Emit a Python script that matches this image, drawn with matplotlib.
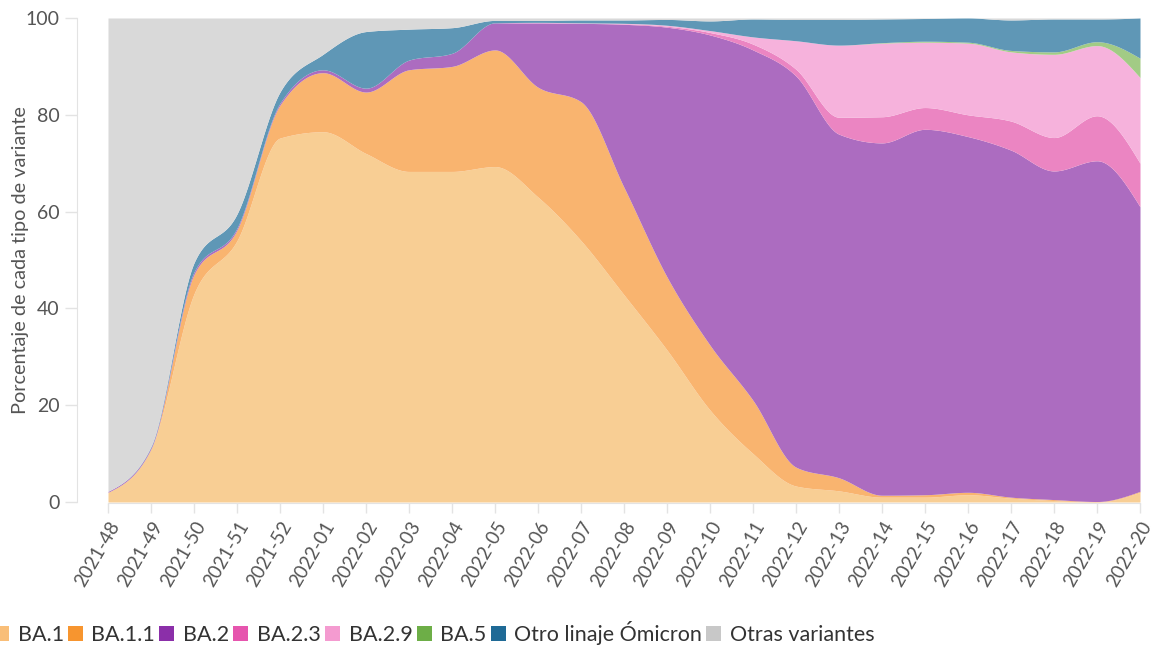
import numpy as np
import matplotlib
matplotlib.use("Agg")
import matplotlib.pyplot as plt
from matplotlib.patches import Patch

plt.rcParams['font.family'] = ['Lato', 'DejaVu Sans']

weeks = ["2021-48", "2021-49", "2021-50", "2021-51", "2021-52",
         "2022-01", "2022-02", "2022-03", "2022-04", "2022-05", "2022-06",
         "2022-07", "2022-08", "2022-09", "2022-10", "2022-11", "2022-12",
         "2022-13", "2022-14", "2022-15", "2022-16", "2022-17", "2022-18",
         "2022-19", "2022-20"]

ba1 = [2, 11, 43, 54, 75.2, 76.5, 72, 68.3, 68.3, 69.3, 63, 54, 42.8, 31.4,
       19, 10, 3.3, 2.3, 1, 1, 1.5, 0.8, 0.3, 0, 2]
ba11 = [0, 0, 4, 2.2, 6.8, 12.2, 12.7, 21, 21.7, 24.1, 22.7, 28.7, 22.2, 15.1,
        13.4, 11, 3.9, 2.7, 0.4, 0.5, 0.5, 0.2, 0.2, 0.1, 0.2]
ba2 = [0.2, 0.3, 0.5, 0.4, 0.4, 0.6, 0.8, 2, 2.7, 5.6, 13.3, 16.2, 33.7, 51.6,
       64.1, 72.4, 80.8, 71, 72.8, 75.5, 73.5, 71.7, 67.9, 70.4, 58.8]
ba23 = [0, 0, 0, 0, 0, 0, 0, 0, 0, 0, 0, 0, 0.1, 0.2, 0.5, 1.2, 1.4, 3.5, 5.4,
        4.5, 4.5, 6, 6.9, 9.3, 9]
ba29 = [0, 0, 0, 0, 0, 0, 0, 0, 0, 0, 0.1, 0.1, 0.1, 0.2, 0.4, 1.5, 5.9, 14.9,
        15.2, 13.5, 14.8, 14.3, 17.2, 14.5, 17.7]
ba5 = [0, 0, 0, 0, 0, 0, 0, 0, 0, 0, 0, 0, 0, 0, 0, 0, 0, 0, 0.1, 0.2, 0.2,
       0.3, 0.5, 0.8, 4]
otro = [0, 0.2, 1.9, 2.9, 2.3, 3.2, 11.7, 6.4, 5.3, 0.5, 0.4, 0.6, 0.7, 1.2,
        2, 3.7, 4.4, 5.3, 4.9, 4.7, 5, 6.3, 6.8, 4.7, 8.3]

names = ["BA.1", "BA.1.1", "BA.2", "BA.2.3", "BA.2.9", "BA.5",
         "Otro linaje Ómicron", "Otras variantes"]
fill_colors = ["#F8CE94", "#F9B46F", "#AC6CC0", "#EB85C2", "#F6B2DC",
               "#A2CB85", "#5F97B6", "#D9D9D9"]
legend_colors = ["#F9BE78", "#F7952F", "#8B2FA9", "#E655AE", "#F49BD0",
                 "#6DAE47", "#1F6A96", "#C8C8C8"]

series = [ba1, ba11, ba2, ba23, ba29, ba5, otro]
arr = np.array(series, dtype=float)
otras = 100 - arr.sum(axis=0)
arr = np.vstack([arr, otras])
cum = np.cumsum(arr, axis=0)


def monotone(x, y, xn):
    x = np.asarray(x, float)
    y = np.asarray(y, float)
    n = len(x)
    h = np.diff(x)
    s = np.diff(y) / h
    t = np.zeros(n)
    for i in range(1, n - 1):
        h0, h1 = h[i - 1], h[i]
        s0, s1 = s[i - 1], s[i]
        p = (s0 * h1 + s1 * h0) / (h0 + h1)
        t[i] = (np.sign(s0) + np.sign(s1)) * min(abs(s0), abs(s1), 0.5 * abs(p))
    t[0] = (3 * s[0] - t[1]) / 2
    t[-1] = (3 * s[-1] - t[-2]) / 2
    idx = np.clip(np.searchsorted(x, xn, side='right') - 1, 0, n - 2)
    hh = h[idx]
    u = (xn - x[idx]) / hh
    h00 = 2 * u**3 - 3 * u**2 + 1
    h10 = u**3 - 2 * u**2 + u
    h01 = -2 * u**3 + 3 * u**2
    h11 = u**3 - u**2
    return h00 * y[idx] + h10 * hh * t[idx] + h01 * y[idx + 1] + h11 * hh * t[idx + 1]


xs = np.arange(len(weeks))
xd = np.linspace(0, len(weeks) - 1, 2000)
bounds = np.array([monotone(xs, c, xd) for c in cum])
bounds = np.clip(bounds, 0, 100)
bounds = np.maximum.accumulate(bounds, axis=0)

fig = plt.figure(figsize=(11.57, 6.46), dpi=100)
ax = fig.add_axes([108 / 1157, 144 / 646, (1140 - 108) / 1157, (502 - 18) / 646])

# spines first (set_position resets ticks)
for sp in ['top', 'right']:
    ax.spines[sp].set_visible(False)
ax.spines['left'].set_position(('outward', 22))
ax.spines['left'].set_color('#e3e3e3')
ax.spines['bottom'].set_position(('outward', 1))
ax.spines['bottom'].set_color('#e3e3e3')

lower = np.zeros_like(xd)
for k in range(len(names)):
    upper = bounds[k]
    ax.fill_between(xd, lower, upper, color=fill_colors[k], linewidth=0)
    lower = upper

ax.set_xlim(0, len(weeks) - 1)
ax.set_ylim(0, 100)
ax.tick_params(axis='x', length=7, width=1, color='#e3e3e3', pad=4)
ax.tick_params(axis='y', length=9, width=1, color='#e3e3e3', pad=4)
ax.set_xticks(xs)
ax.set_xticklabels(weeks, fontsize=13.5, color='#555555', rotation=60,
                   ha='right', va='top', rotation_mode='anchor')
ax.set_yticks([0, 20, 40, 60, 80, 100])
ax.set_yticklabels(["0", "20", "40", "60", "80", "100"], fontsize=14,
                   color='#555555')

ax.set_ylabel("Porcentaje de cada tipo de variante", fontsize=14.3,
              color='#555555')
ax.yaxis.set_label_coords(-0.077, 0.5)

handles = [Patch(facecolor=c, edgecolor='none') for c in legend_colors]
fig.legend(handles, names, loc='lower left', bbox_to_anchor=(-0.022, -0.029),
           ncol=8, frameon=False, fontsize=15.5, handlelength=0.7,
           handleheight=0.7, handletextpad=0.4, columnspacing=0.19,
           labelcolor='#333333')

fig.savefig("out.png", dpi=100)
